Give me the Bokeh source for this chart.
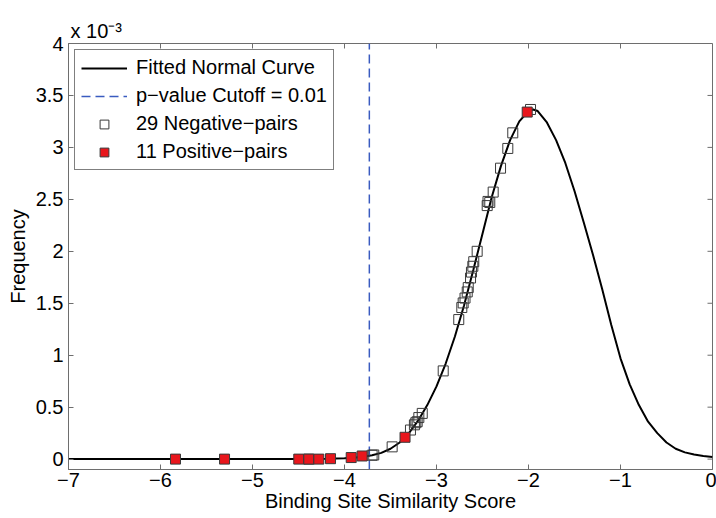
import math
from bokeh.plotting import figure
from bokeh.models import FixedTicker, Range1d, Legend, LegendItem
from bokeh.embed import file_html
from bokeh.resources import INLINE

# ---- data; y values in units of 1e-3 ----
curve_x = [-7.0, -6.0, -5.0, -4.6, -4.4, -4.2, -4.0, -3.9, -3.8, -3.7, -3.6, -3.5, -3.4, -3.3,
           -3.2, -3.1, -3.0, -2.9, -2.8, -2.7, -2.6, -2.5, -2.4, -2.3, -2.2, -2.1, -2.0, -1.95,
           -1.9, -1.8, -1.7, -1.6, -1.5, -1.4, -1.3, -1.2, -1.1, -1.0, -0.9, -0.8, -0.7, -0.6,
           -0.5, -0.4, -0.3, -0.2, -0.1, 0.0]
curve_y = [0.0, 0.0, 0.0, 0.0005, 0.001, 0.003, 0.008, 0.013, 0.022, 0.037, 0.06, 0.10, 0.16, 0.25,
           0.37, 0.52, 0.70, 0.92, 1.18, 1.48, 1.82, 2.17, 2.52, 2.82, 3.07, 3.25, 3.35, 3.365,
           3.35, 3.24, 3.07, 2.85, 2.58, 2.28, 1.97, 1.64, 1.29, 0.97, 0.72, 0.52, 0.36, 0.25,
           0.16, 0.10, 0.065, 0.045, 0.03, 0.02]

neg_x = [-1.978, -2.171, -2.225, -2.304, -2.384, -2.421, -2.449, -2.440, -2.558, -2.595, -2.605,
         -2.620, -2.630, -2.655, -2.666, -2.690, -2.710, -2.725, -2.758, -2.927, -3.155, -3.192,
         -3.210, -3.225, -3.240, -3.283, -3.482, -3.682, -3.700]
neg_y = [3.365, 3.14, 2.99, 2.80, 2.57, 2.47, 2.44, 2.48, 2.00, 1.90, 1.856,
         1.80, 1.743, 1.651, 1.609, 1.55, 1.503, 1.459, 1.343, 0.849, 0.44, 0.40,
         0.36, 0.35, 0.33, 0.28, 0.118, 0.04, 0.037]

pos_x = [-5.837, -5.304, -4.497, -4.388, -4.388, -4.279, -4.152, -3.927, -3.808, -3.342, -2.014]
pos_y = [0.0, 0.0, 0.0, 0.0, 0.0, 0.0, 0.004, 0.015, 0.03, 0.21, 3.34]

cutoff_x = -3.73
x_limits = [-7.0, 0.0]
y_limits = [-0.1, 4.0]

x_ticks = [-7, -6, -5, -4, -3, -2, -1, 0]
x_tick_labels = ["\u22127", "\u22126", "\u22125", "\u22124", "\u22123", "\u22122", "\u22121", "0"]
y_ticks = [0, 0.5, 1, 1.5, 2, 2.5, 3, 3.5, 4]
y_tick_labels = ["0", "0.5", "1", "1.5", "2", "2.5", "3", "3.5", "4"]

FONT = "Liberation Sans"
AX = "#6e6e6e"

p = figure(width=716, height=518, x_range=Range1d(*x_limits), y_range=Range1d(*y_limits),
           output_backend="svg", toolbar_location=None,
           min_border_left=68, min_border_right=4, min_border_top=43, min_border_bottom=49)
p.background_fill_color = "white"
p.border_fill_color = "white"
p.outline_line_color = AX
p.outline_line_width = 1
p.xgrid.visible = False
p.ygrid.visible = False

# multiplier shown above the axes
p.title.text = "x 10\u207b\u00b3"
p.title.align = "left"
p.title.offset = 2
p.title.standoff = 4
p.title.text_font = FONT
p.title.text_font_size = "20px"
p.title.text_font_style = "normal"
p.title.text_color = "black"

def style_axis(ax, ticks, labels):
    ax.ticker = FixedTicker(ticks=ticks)
    ax.minor_tick_line_color = None
    ax.major_tick_in = 5
    ax.major_tick_out = 0
    ax.axis_line_color = AX
    ax.major_tick_line_color = AX
    ax.major_label_text_font = FONT
    ax.major_label_text_color = "black"
    ax.major_label_overrides = {t: l for t, l in zip(ticks, labels)}
    ax.major_label_text_font_size = "20px"
    ax.axis_label_text_font = FONT
    ax.axis_label_text_font_size = "20px"
    ax.axis_label_text_font_style = "normal"
    ax.axis_label_text_color = "black"

style_axis(p.xaxis[0], x_ticks, x_tick_labels)
p.xaxis[0].major_label_standoff = 3
p.xaxis[0].axis_label = "Binding Site Similarity Score"
p.xaxis[0].axis_label_standoff = 0
style_axis(p.yaxis[0], y_ticks, y_tick_labels)
p.yaxis[0].major_label_standoff = 5
p.yaxis[0].axis_label = "Frequency"
p.yaxis[0].axis_label_standoff = 4

# inward ticks on the top and right edges of the box
p.ray(x=x_ticks, y=[y_limits[1]] * len(x_ticks), length=5, angle=-math.pi / 2,
      length_units="screen", line_color=AX, line_width=1)
p.ray(x=[x_limits[1]] * len(y_ticks), y=y_ticks, length=5, angle=math.pi,
      length_units="screen", line_color=AX, line_width=1)

# glyphs
r_curve = p.line(curve_x, curve_y, line_color="black", line_width=2)
r_cut = p.line([cutoff_x, cutoff_x], y_limits, line_color="#3a5bc0", line_width=1.5, line_dash="9 5")
r_neg = p.scatter(neg_x, neg_y, marker="square", size=10, fill_color=None,
                  line_color="#3a3a3a", line_width=1)
r_pos = p.scatter(pos_x, pos_y, marker="square", size=10, fill_color="#e8161c",
                  line_color="#3a3a3a", line_width=1)

legend = Legend(items=[
    LegendItem(label="Fitted Normal Curve", renderers=[r_curve]),
    LegendItem(label="p\u2212value Cutoff = 0.01", renderers=[r_cut]),
    LegendItem(label="29 Negative\u2212pairs", renderers=[r_neg]),
    LegendItem(label="11 Positive\u2212pairs", renderers=[r_pos]),
])
legend.location = "top_left"
legend.margin = 6
legend.label_text_font = FONT
legend.label_text_font_size = "20px"
legend.label_text_color = "black"
legend.glyph_width = 46
legend.glyph_height = 22
legend.label_height = 22
legend.label_standoff = 9
legend.spacing = 5
legend.padding = 6
legend.border_line_color = "black"
legend.border_line_width = 1
legend.background_fill_color = "white"
legend.background_fill_alpha = 1
p.add_layout(legend)

open("out.html", "w").write(file_html(p, INLINE))
